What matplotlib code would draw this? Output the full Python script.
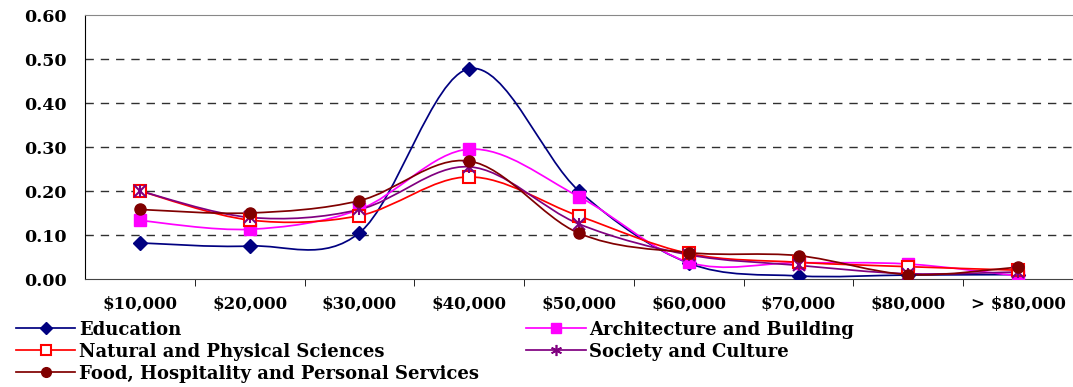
import numpy as np
import matplotlib.pyplot as plt
from matplotlib.path import Path
from matplotlib.patches import PathPatch
from matplotlib.lines import Line2D

# Share of graduates in each starting salary band, by field of study
salary_bands = ["$10,000", "$20,000", "$30,000", "$40,000", "$50,000",
                "$60,000", "$70,000", "$80,000", "> $80,000"]

education = [0.082, 0.075, 0.105, 0.478, 0.200, 0.036, 0.007, 0.009, 0.010]
architecture = [0.133, 0.113, 0.158, 0.295, 0.187, 0.038, 0.037, 0.034, 0.007]
natural_sciences = [0.200, 0.134, 0.144, 0.232, 0.143, 0.058, 0.038, 0.028, 0.020]
society_culture = [0.200, 0.140, 0.158, 0.255, 0.125, 0.055, 0.031, 0.012, 0.016]
food_hospitality = [0.158, 0.150, 0.178, 0.268, 0.104, 0.060, 0.053, 0.010, 0.027]

series = [
    ("Education", education, "#000080", "D", "#000080", 7),
    ("Architecture and Building", architecture, "#FF00FF", "s", "#FF00FF", 8),
    ("Natural and Physical Sciences", natural_sciences, "#FF0000", "s", "white", 8),
    ("Society and Culture", society_culture, "#800080", "x", "#800080", 8),
    ("Food, Hospitality and Personal Services", food_hospitality, "#800000", "o", "#800000", 8),
]

plt.rcParams["font.family"] = ["DejaVu Serif"]
plt.rcParams["font.weight"] = "bold"


def smooth_path(xs, ys):
    # spreadsheet-style smoothed line: cubic Bezier with neighbour tangents
    pts = np.column_stack([xs, ys]).astype(float)
    verts = [pts[0]]
    codes = [Path.MOVETO]
    n = len(pts)
    for i in range(n - 1):
        p0 = pts[i - 1] if i > 0 else pts[i]
        p1 = pts[i]
        p2 = pts[i + 1]
        p3 = pts[i + 2] if i + 2 < n else pts[i + 1]
        c1 = p1 + (p2 - p0) / 6.0
        c2 = p2 - (p3 - p1) / 6.0
        verts += [c1, c2, p2]
        codes += [Path.CURVE4] * 3
    return Path(verts, codes)


fig = plt.figure(figsize=(10.73, 3.87), dpi=100)
ax = fig.add_axes([85 / 1073, 1 - 279 / 387, 1 - 85 / 1073, 264 / 387])

x = np.arange(len(salary_bands))
handles = []
for name, vals, color, marker, face, size in series:
    ax.add_patch(PathPatch(smooth_path(x, vals), facecolor="none",
                           edgecolor=color, lw=1.25, zorder=3))
    mew = 1.5 if marker == "x" or face == "white" else 1.0
    ax.plot(x, vals, linestyle="none", marker=marker, ms=size,
            mfc=face, mec=color, mew=mew, zorder=4)
    if marker == "x":
        ax.plot(x, vals, linestyle="none", marker="|", ms=size,
                mec=color, mew=mew, zorder=4)
        h = Line2D([], [], color=color, lw=1.25, marker=(6, 2, 0), ms=size,
                   mec=color, mew=1.2)
    else:
        h = Line2D([], [], color=color, lw=1.25, marker=marker, ms=size - 1,
                   mfc=face, mec=color, mew=mew)
    handles.append((h, name))

ax.set_xlim(-0.5, len(salary_bands) - 0.5)
ax.set_ylim(0, 0.60)
ax.set_yticks(np.arange(0, 0.61, 0.10))
ax.set_yticklabels([f"{v:.2f}" for v in np.arange(0, 0.61, 0.10)], fontsize=12.5)
ax.set_xticks(x)
ax.set_xticklabels(salary_bands, fontsize=12)
ax.set_xticks(np.arange(0.5, len(salary_bands) - 0.5, 1), minor=True)
ax.tick_params(axis="x", which="major", length=0, pad=12)
ax.tick_params(axis="x", which="minor", length=5, direction="out", color="black")
ax.tick_params(axis="y", length=0, pad=13)

for y in np.arange(0.1, 0.55, 0.1):
    ax.axhline(y, color="#303030", lw=1.0, ls=(0, (6, 5)), zorder=1)

ax.spines["right"].set_visible(False)
ax.spines["top"].set_color("#888888")
ax.spines["left"].set_color("black")
ax.spines["bottom"].set_color("#444444")

order = [0, 2, 4, 1, 3]
fig.legend([handles[i][0] for i in order], [handles[i][1] for i in order],
           loc="upper left", bbox_to_anchor=(0.008, 0.19), ncol=2,
           frameon=False, fontsize=13, handlelength=3.3, handletextpad=0.2,
           labelspacing=0.22, columnspacing=2.6, borderaxespad=0)

fig.savefig("out.png", dpi=100)
